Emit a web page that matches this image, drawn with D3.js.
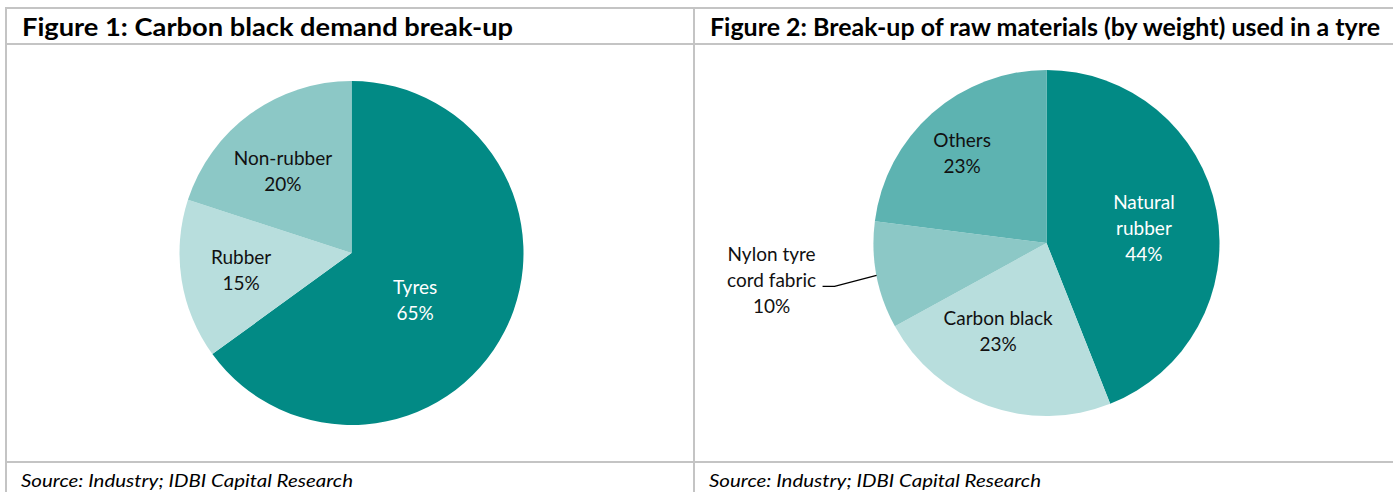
<!doctype html>
<html lang="en">
<head>
  <meta charset="utf-8">
  <title>Carbon black demand / tyre raw materials</title>
  <script src="https://d3js.org/d3.v7.min.js"></script>
  <style>
    body { margin: 0; background: #fff; }
    svg text { font-family: Lato, "Open Sans", sans-serif; }
    .title { font-size: 24px; font-weight: bold; fill: #000; }
    .source { font-size: 18px; font-style: italic; fill: #000; }
    .lbl { font-size: 19px; }
  </style>
</head>
<body>
<svg width="1393" height="492"></svg>
<script>
  // figure 1
  var demandCats = ["Tyres", "Rubber", "Non-rubber"];
  var demandVals = [65, 15, 20];
  // figure 2
  var tyreCats = ["Natural rubber", "Carbon black", "Nylon tyre cord fabric", "Others"];
  var tyreVals = [44, 23, 10, 23];

  var titles = ["Figure 1: Carbon black demand break-up",
                "Figure 2: Break-up of raw materials (by weight) used in a tyre"];
  var sourceText = "Source: Industry; IDBI Capital Research";

  var dark = "#028a85", mid = "#5db3b1", light = "#8cc8c6", pale = "#b8dedd";

  var svg = d3.select("svg");

  // table frame
  var grid = svg.append("g").attr("stroke", "#c4c4c4").attr("stroke-width", 2);
  [8, 44, 462].forEach(function (y) {
    grid.append("line").attr("x1", 5).attr("x2", 1393).attr("y1", y).attr("y2", y);
  });
  [6, 694].forEach(function (x) {
    grid.append("line").attr("x1", x).attr("x2", x).attr("y1", 7).attr("y2", 492);
  });

  svg.append("text").attr("class", "title").attr("x", 22).attr("y", 36)
    .attr("textLength", 491).attr("lengthAdjust", "spacingAndGlyphs").text(titles[0]);
  svg.append("text").attr("class", "title").attr("x", 710).attr("y", 36)
    .attr("textLength", 670).attr("lengthAdjust", "spacingAndGlyphs").text(titles[1]);

  [21, 709].forEach(function (x) {
    svg.append("text").attr("class", "source").attr("x", x).attr("y", 487)
      .attr("textLength", 332).attr("lengthAdjust", "spacingAndGlyphs").text(sourceText);
  });

  function drawPie(cx, cy, r, cats, vals, colors, labels) {
    var g = svg.append("g").attr("transform", "translate(" + cx + "," + cy + ")");
    var pie = d3.pie().sort(null).value(function (d) { return d; });
    var arcs = pie(vals);
    var arc = d3.arc().innerRadius(0).outerRadius(r);

    g.selectAll("path").data(arcs).enter().append("path")
      .attr("d", arc)
      .attr("fill", function (d, i) { return colors[i]; });

    arcs.forEach(function (d, i) {
      var L = labels[i];
      var a = (d.startAngle + d.endAngle) / 2 + L.turn * Math.PI / 180;
      var x = Math.sin(a) * r * L.k, y = -Math.cos(a) * r * L.k;
      var lines = L.lines || [cats[i]];
      lines = lines.concat([vals[i] + "%"]);

      if (L.leader) {
        var m = (d.startAngle + d.endAngle) / 2;
        var ex = Math.sin(m) * r, ey = -Math.cos(m) * r;
        var bx = ex + L.leader[0], by = ey + L.leader[1];
        g.append("polyline")
          .attr("points", [[ex, ey], [bx, by], [bx - 12, by]].map(function (p) { return p.join(","); }).join(" "))
          .attr("fill", "none").attr("stroke", "#000").attr("stroke-width", 1.3);
        x = bx - 63; y = by - 6;
      }

      var t = g.append("text").attr("class", "lbl")
        .attr("text-anchor", "middle")
        .attr("fill", L.fill);
      var n = lines.length;
      lines.forEach(function (s, j) {
        t.append("tspan").attr("x", x)
          .attr("y", y + (j - (n - 1) / 2) * 26)
          .attr("dy", "0.35em").text(s);
      });
    });
  }

  drawPie(351.5, 253, 172, demandCats, demandVals, [dark, pale, light], [
    { k: 0.46, turn: 9.5, fill: "#fff" },
    { k: 0.65, turn: 0, fill: "#111" },
    { k: 0.62, turn: -4, fill: "#111" }
  ]);

  drawPie(1046.5, 243, 173, tyreCats, tyreVals, [dark, pale, light, mid], [
    { k: 0.57, turn: 2, fill: "#fff", lines: ["Natural", "rubber"] },
    { k: 0.58, turn: 9, fill: "#111" },
    { k: 1, turn: 0, fill: "#111", lines: ["Nylon tyre", "cord fabric"], leader: [-42, 11] },
    { k: 0.71, turn: -2, fill: "#111" }
  ]);
</script>
</body>
</html>
